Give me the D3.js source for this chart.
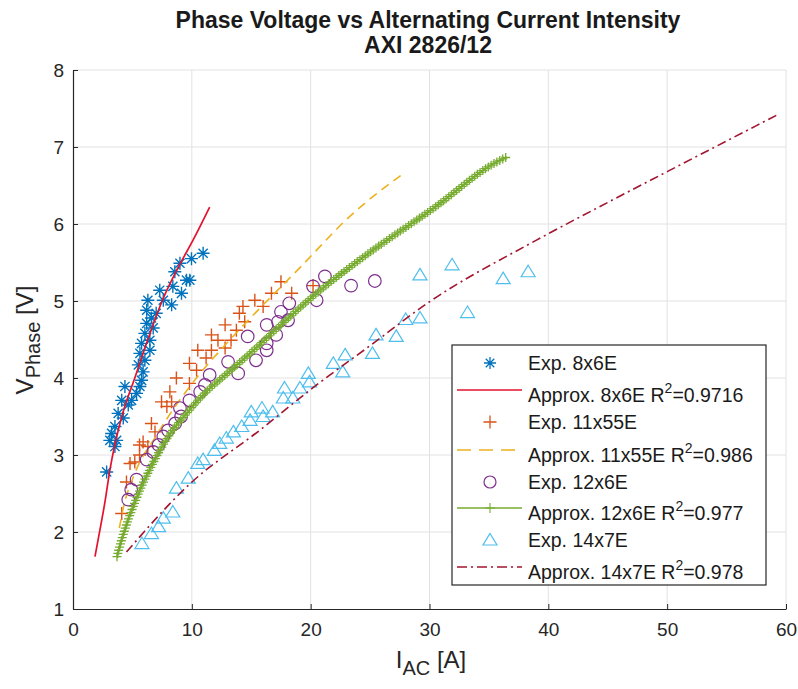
<!DOCTYPE html>
<html><head><meta charset="utf-8">
<script src="https://cdn.jsdelivr.net/npm/d3@7/dist/d3.min.js"></script>
<style>body{margin:0;background:#fff} text{font-family:"Liberation Sans",Arial,Helvetica,sans-serif}</style>
</head><body>
<svg id="c" width="798" height="689"></svg>
<script>
// ---- data ----
const titleLines = ["Phase Voltage vs Alternating Current Intensity", "AXI 2826/12"];
const xTicks = [0, 10, 20, 30, 40, 50, 60];
const yTicks = [1, 2, 3, 4, 5, 6, 7, 8];

const exp8x6E = [[10.95,5.62],[9.97,5.55],[9.0,5.49],[9.83,5.27],[8.57,5.38],[8.4,5.19],[7.3,5.14],[9.13,5.1],
  [8.3,4.95],[6.3,5.01],[7.6,5.01],[6.2,4.88],[6.6,4.78],[7.0,4.84],[6.2,4.71],[6.75,4.65],[6.05,4.58],
  [6.47,4.49],[5.77,4.45],[6.47,4.36],[5.63,4.32],[6.05,4.23],[5.5,4.17],[5.9,4.08],[5.77,3.97],[5.63,3.89],
  [4.37,3.89],[5.35,3.8],[4.93,3.71],[4.1,3.71],[4.65,3.65],[3.8,3.54],[4.23,3.48],[3.53,3.37],[3.25,3.28],
  [3.67,3.19],[3.1,3.19],[3.53,3.11],[2.83,2.78],[9.55,5.27]];
const fit8x6E = [[1.85,1.68],[2.27,2.03],[2.7,2.4],[3.1,2.8],[3.5,3.12],[4.2,3.55],[5.2,4.0],[6.3,4.5],
  [7.5,5.0],[8.8,5.42],[10.1,5.79],[11.5,6.22]];

const exp11x55E = [[4.1,2.24],[4.5,2.65],[4.8,2.89],[5.2,2.91],[5.6,3.0],[5.9,3.17],[6.3,3.11],[5.6,3.13],
  [6.9,3.3],[6.6,3.41],[7.9,3.63],[7.45,3.69],[8.3,3.69],[8.15,3.82],[8.7,4.0],[9.8,3.93],[10.4,4.1],
  [9.8,4.19],[11.2,4.26],[10.5,4.36],[11.65,4.36],[12.8,4.39],[12.2,4.49],[13.3,4.49],[11.65,4.56],
  [13.75,4.62],[12.8,4.69],[14.45,4.73],[14.0,4.84],[14.3,4.93],[16.0,4.93],[15.3,5.01],[16.7,5.1],
  [18.4,5.1],[17.5,5.25],[20.2,5.2]];
const fit11x55E = [[3.9,2.05],[4.2,2.29],[5.2,2.76],[7.0,3.25],[10.7,4.06],[13.05,4.47],[19.2,5.45],
  [23.3,6.1],[27.75,6.65]];

const exp12x6E = [[4.65,2.42],[4.9,2.55],[5.35,2.68],[6.2,2.94],[6.75,3.04],[7.2,3.13],[7.6,3.24],[8.0,3.32],
  [8.6,3.41],[9.1,3.5],[9.0,3.61],[9.8,3.71],[10.7,3.82],[11.1,3.91],[11.5,4.04],[13.05,4.21],[13.9,4.06],
  [14.7,4.54],[15.4,4.23],[16.3,4.36],[16.3,4.45],[17.1,4.56],[16.3,4.69],[17.25,4.73],[18.1,4.75],
  [17.5,4.86],[18.2,4.97],[20.5,5.01],[20.2,5.19],[21.2,5.32],[23.4,5.2],[25.4,5.26]];
const fit12x6E = [[3.7,1.68],[4.0,1.85],[5.35,2.44],[6.75,2.9],[8.15,3.27],[9.5,3.53],[11.2,3.82],
  [12.9,4.05],[14.9,4.32],[17.7,4.72],[20.5,5.1],[24.7,5.6],[30.3,6.2],[35.6,6.8],[36.5,6.87]];

const exp14x7E = [[29.2,5.34],[31.9,5.47],[36.2,5.29],[38.3,5.38],[33.2,4.85],[29.2,4.78],[28.0,4.76],
  [27.2,4.54],[25.5,4.56],[25.2,4.32],[22.9,4.30],[21.9,4.19],[22.7,4.08],[19.8,4.06],[19.9,3.95],
  [17.8,3.87],[19.1,3.87],[18.5,3.74],[17.7,3.74],[15.9,3.61],[15.0,3.56],[16.8,3.56],[16.0,3.50],
  [14.9,3.45],[14.2,3.37],[13.5,3.30],[12.9,3.22],[12.35,3.15],[11.9,3.06],[10.95,2.94],[10.5,2.89],
  [9.7,2.70],[8.7,2.57],[8.4,2.26],[7.6,2.18],[7.2,2.07],[6.6,1.98],[5.8,1.85]];
const fit14x7E = [[4.5,1.74],[9.8,2.62],[15.7,3.32],[20.5,3.91],[25.0,4.42],[30.0,4.99],[39.0,5.79],
  [45.0,6.28],[50.0,6.68],[59.3,7.42]];

const legendLabels = ["Exp. 8x6E","Approx. 8x6E R|2|=0.9716","Exp. 11x55E","Approx. 11x55E R|2|=0.986",
  "Exp. 12x6E","Approx. 12x6E R|2|=0.977","Exp. 14x7E","Approx. 14x7E R|2|=0.978"];

// ---- drawing ----
const svg = d3.select("#c");
const x = d3.scaleLinear().domain([0, 60]).range([73, 786]);
const y = d3.scaleLinear().domain([1, 8]).range([609, 70]);

const C = {blue:"#0072BD", red:"#E3122D", orange:"#D95319", yellow:"#EDB120", purple:"#7E2F8E",
  green:"#77AC30", cyan:"#4DBEEE", dred:"#A2142F"};

// grid
svg.append("g").selectAll("line").data(xTicks.slice(1)).join("line")
  .attr("x1", d=>x(d)).attr("x2", d=>x(d)).attr("y1", y(1)).attr("y2", y(8))
  .attr("stroke","#e2e2e2").attr("stroke-width",1);
svg.append("g").selectAll("line").data(yTicks.slice(1)).join("line")
  .attr("x1", x(0)).attr("x2", x(60)).attr("y1", d=>y(d)).attr("y2", d=>y(d))
  .attr("stroke","#e2e2e2").attr("stroke-width",1);

// axes
const gx = svg.append("g").attr("transform",`translate(0,${y(1)})`)
  .call(d3.axisBottom(x).tickValues(xTicks).tickFormat(d3.format("d")).tickSizeInner(-5).tickSizeOuter(0).tickPadding(14));
const gy = svg.append("g").attr("transform",`translate(${x(0)},0)`)
  .call(d3.axisLeft(y).tickValues(yTicks).tickFormat(d3.format("d")).tickSizeInner(-5).tickSizeOuter(0).tickPadding(9));
[gx, gy].forEach(g => {
  g.select(".domain").attr("stroke","#262626").attr("stroke-width",1.2);
  g.selectAll(".tick line").attr("stroke","#262626");
  g.selectAll(".tick text").attr("fill","#262626").style("font-size","19px")
    .style("font-family",'"Liberation Sans",Arial,sans-serif');
});

// title
svg.append("text").attr("x", 428).attr("y", 28).attr("text-anchor","middle")
  .style("font-weight","bold").style("font-size","23px").attr("fill","#1a1a1a").text(titleLines[0]);
svg.append("text").attr("x", 428).attr("y", 53).attr("text-anchor","middle")
  .style("font-weight","bold").style("font-size","23px").attr("fill","#1a1a1a").text(titleLines[1]);

// axis labels
const xl = svg.append("text").attr("x", 431).attr("y", 668).attr("text-anchor","middle")
  .style("font-size","24px").attr("fill","#262626");
xl.append("tspan").text("I");
xl.append("tspan").attr("dy",7).style("font-size","20px").text("AC");
xl.append("tspan").attr("dy",-7).text(" [A]");
const yl = svg.append("text").attr("transform","translate(33,340) rotate(-90)").attr("text-anchor","middle")
  .style("font-size","24px").attr("fill","#262626");
yl.append("tspan").text("V");
yl.append("tspan").attr("dy",7).style("font-size","20px").text("Phase");
yl.append("tspan").attr("dy",-7).text(" [V]");

// marker shapes
function asterisk(s){ const a=s*0.707; return `M${-s},0H${s}M0,${-s}V${s}M${-a},${-a}L${a},${a}M${-a},${a}L${a},${-a}`; }
function plus(s){ return `M${-s},0H${s}M0,${-s}V${s}`; }
function tri(){ return "M0,-6.5L7,5L-7,5Z"; }

const plot = svg.append("g");
const line = d3.line().x(d=>x(d[0])).y(d=>y(d[1])).curve(d3.curveMonotoneX);

function scatter(data, pathD, color, sw){
  plot.append("g").selectAll("path").data(data).join("path")
    .attr("transform", d=>`translate(${x(d[0])},${y(d[1])})`)
    .attr("d", pathD).attr("fill","none").attr("stroke", color).attr("stroke-width", sw);
}

// 8x6E
scatter(exp8x6E, asterisk(6.5), C.blue, 1.4);
plot.append("path").datum(fit8x6E).attr("d", line).attr("fill","none").attr("stroke",C.red).attr("stroke-width",1.7);
// 11x55E
scatter(exp11x55E, plus(6.5), C.orange, 1.4);
plot.append("path").datum(fit11x55E).attr("d", line).attr("fill","none").attr("stroke",C.yellow)
  .attr("stroke-width",1.6).attr("stroke-dasharray","9,6");
// 12x6E
plot.append("g").selectAll("circle").data(exp12x6E).join("circle")
  .attr("cx", d=>x(d[0])).attr("cy", d=>y(d[1])).attr("r",6.3)
  .attr("fill","none").attr("stroke",C.purple).attr("stroke-width",1.2);
const gp = plot.append("path").datum(fit12x6E).attr("d", line).attr("fill","none").attr("stroke",C.green).attr("stroke-width",1.5);
// + markers spaced along the approximation curve
(function(){
  const node = gp.node(), L = node.getTotalLength(), step = 3.3;
  const pts = d3.range(0, L + 0.01, step).map(l => node.getPointAtLength(Math.min(l, L)));
  plot.append("g").selectAll("path").data(pts).join("path")
    .attr("transform", p=>`translate(${p.x},${p.y})`).attr("d", plus(4.5))
    .attr("fill","none").attr("stroke",C.green).attr("stroke-width",1.3);
})();
// 14x7E
scatter(exp14x7E, tri(), C.cyan, 1.2);
plot.append("path").datum(fit14x7E).attr("d", line).attr("fill","none").attr("stroke",C.dred)
  .attr("stroke-width",1.6).attr("stroke-dasharray","9,4,2,4");

// legend
const lg = svg.append("g");
lg.append("rect").attr("x",452).attr("y",345).attr("width",314).attr("height",240)
  .attr("fill","#fff").attr("stroke","#262626").attr("stroke-width",1.2);
const rowY = [363, 395, 422, 455, 482, 513, 540, 572];
const lx0 = 457, lx1 = 522, lm = 490, tx = 528;
function ltext(i){
  const parts = legendLabels[i].split("|");
  const t = lg.append("text").attr("x", tx).attr("y", rowY[i] + 7).style("font-size","19.5px").attr("fill","#1a1a1a");
  t.append("tspan").text(parts[0]);
  if (parts.length > 1){
    t.append("tspan").attr("dy",-9).style("font-size","14px").text(parts[1]);
    t.append("tspan").attr("dy",9).text(parts[2]);
  }
}
legendLabels.forEach((_, i) => ltext(i));
const mk = (d, i, color, sw) => lg.append("path").attr("transform",`translate(${lm},${rowY[i]})`)
  .attr("d", d).attr("fill","none").attr("stroke",color).attr("stroke-width",sw);
const ln = (i, color, dash) => lg.append("line").attr("x1",lx0).attr("x2",lx1).attr("y1",rowY[i]-5).attr("y2",rowY[i]-5)
  .attr("stroke",color).attr("stroke-width",1.6).attr("stroke-dasharray",dash);
mk(asterisk(6), 0, C.blue, 1.3);
ln(1, C.red, null);
mk(plus(6.5), 2, C.orange, 1.3);
ln(3, C.yellow, "14,8");
lg.append("circle").attr("cx",lm).attr("cy",rowY[4]).attr("r",6).attr("fill","none").attr("stroke",C.purple).attr("stroke-width",1.2);
ln(5, C.green, null);
mk(plus(5), 5, C.green, 1.1).attr("transform",`translate(${lm},${rowY[5]-5})`);
mk(tri(), 6, C.cyan, 1.2);
ln(7, C.dred, "10,4,2,4");
</script>
</body></html>
